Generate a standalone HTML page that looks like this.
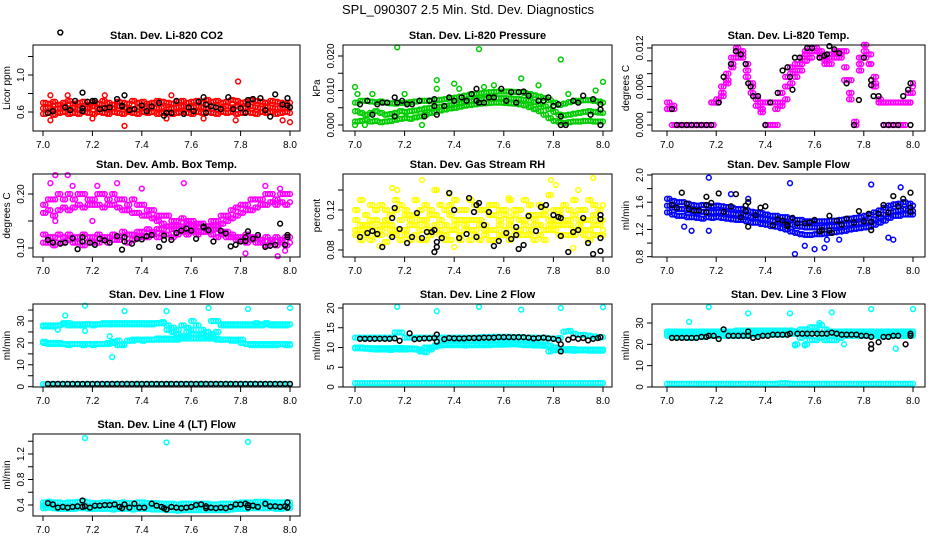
<!DOCTYPE html>
<html><head><meta charset="utf-8"><style>
html,body{margin:0;padding:0;background:#fff;}
svg{display:block;font-family:"Liberation Sans",sans-serif;}
</style></head><body>
<svg id="chart" width="936" height="540" viewBox="0 0 936 540" xmlns="http://www.w3.org/2000/svg">
<rect x="0" y="0" width="936" height="540" fill="#fff"/>
<text x="468" y="14" text-anchor="middle" font-size="13">SPL_090307  2.5 Min. Std. Dev. Diagnostics</text>
</svg>
<script>
const T=[7.00,7.02,7.04,7.06,7.08,7.10,7.12,7.14,7.16,7.18,7.20,7.22,7.24,7.26,7.28,7.30,7.32,7.34,7.36,7.38,7.40,7.42,7.44,7.46,7.48,7.50,7.52,7.54,7.56,7.58,7.60,7.62,7.64,7.66,7.68,7.70,7.72,7.74,7.76,7.78,7.80,7.82,7.84,7.86,7.88,7.90,7.92,7.94,7.96,7.98,8.00];
const T2=[7.01,7.03,7.05,7.07,7.09,7.11,7.13,7.15,7.17,7.19,7.21,7.23,7.25,7.27,7.29,7.31,7.33,7.35,7.37,7.39,7.41,7.43,7.45,7.47,7.49,7.51,7.53,7.55,7.57,7.59,7.61,7.63,7.65,7.67,7.69,7.71,7.73,7.75,7.77,7.79,7.81,7.83,7.85,7.87,7.89,7.91,7.93,7.95,7.97,7.99];
const xTicks=[7.0,7.2,7.4,7.6,7.8,8.0];
const xTickLabels=["7.0","7.2","7.4","7.6","7.8","8.0"];
// CO2
const co2RedHi=[0.70,0.69,0.71,0.68,0.70,0.72,0.69,0.70,0.71,0.68,0.70,0.69,0.72,0.70,0.68,0.71,0.70,0.69,0.72,0.70,0.71,0.69,0.70,0.72,0.71,0.70,0.69,0.71,0.72,0.70,0.71,0.72,0.70,0.73,0.71,0.72,0.70,0.71,0.73,0.72,0.70,0.71,0.73,0.72,0.71,0.70,0.72,0.71,0.70,0.69,0.70];
const co2RedMid=[0.64,0.65,0.63,0.64,0.66,0.64,0.65,0.63,0.64,0.65,0.66,0.64,0.65,0.63,0.64,0.66,0.65,0.64,0.63,0.65,0.64,0.66,0.65,0.64,0.65,0.63,0.64,0.65,0.66,0.64,0.65,0.66,0.65,0.64,0.66,0.65,0.64,0.66,0.65,0.66,0.64,0.65,0.66,0.65,0.64,0.66,0.65,0.64,0.65,0.64,0.65];
const co2RedLo=[0.58,0.59,0.57,0.59,0.60,0.58,0.59,0.58,0.60,0.59,0.58,0.60,0.59,0.58,0.60,0.59,0.58,0.60,0.59,0.58,0.60,0.59,0.60,0.58,0.59,0.60,0.58,0.59,0.60,0.59,0.58,0.60,0.59,0.60,0.59,0.58,0.60,0.59,0.60,0.58,0.59,0.60,0.59,0.58,0.60,0.59,0.60,0.58,0.59,0.60,0.59];
const co2RedOutX=[7.03,7.10,7.25,7.33,7.52,7.79,7.78,7.97,8.0,7.03,7.20,7.65,7.50];
const co2RedOutY=[0.78,0.78,0.78,0.45,0.78,0.93,0.51,0.51,0.49,0.51,0.53,0.53,0.53];
const co2BlkX=[7.02,7.04,7.09,7.11,7.13,7.16,7.16,7.18,7.2,7.21,7.23,7.25,7.27,7.3,7.32,7.32,7.33,7.35,7.37,7.40,7.42,7.44,7.47,7.49,7.5,7.52,7.54,7.57,7.59,7.61,7.63,7.65,7.66,7.66,7.68,7.70,7.72,7.75,7.77,7.80,7.82,7.83,7.83,7.85,7.88,7.90,7.92,7.94,7.97,7.99,7.99,8.0,7.07,7.16];
const co2BlkY=[0.59,0.61,0.65,0.62,0.72,0.61,0.64,0.71,0.72,0.72,0.63,0.64,0.65,0.74,0.66,0.67,0.78,0.62,0.63,0.67,0.61,0.66,0.70,0.56,0.59,0.59,0.72,0.58,0.65,0.61,0.71,0.76,0.68,0.59,0.66,0.65,0.63,0.76,0.63,0.64,0.59,0.68,0.73,0.74,0.75,0.62,0.55,0.79,0.68,0.75,0.67,0.65,1.46,0.81];
// Pressure
const prGreenHi=[.0065,.007,.007,.0068,.0066,.0068,.0065,.0063,.0062,.0064,.0065,.0066,.0068,.0070,.0070,.0071,.0072,.0073,.0075,.0077,.0079,.0082,.0085,.0088,.009,.0092,.0094,.0095,.0096,.0097,.0097,.0097,.0096,.0095,.0093,.009,.0086,.0082,.0078,.0072,.0065,.0058,.0062,.0066,.007,.007,.0072,.0072,.007,.0068,.0065];
const prGreenMid=[.004,.0035,.003,.0035,.004,.0035,.003,.0032,.0035,.004,.0038,.004,.0042,.0045,.0048,.005,.0052,.0053,.0055,.0057,.006,.0063,.0066,.0069,.0072,.0074,.0076,.0077,.0078,.0078,.0078,.0077,.0076,.0075,.0073,.007,.0066,.006,.0054,.0046,.0038,.003,.0028,.003,.0033,.0035,.0038,.004,.0038,.0036,.0035];
const prGreenLo=[.001,.0012,.0015,.001,.0012,.0008,.001,.0012,.0015,.0018,.002,.0018,.0022,.0025,.003,.0035,.0038,.0042,.0045,.0048,.005,.0053,.0056,.0058,.006,.0062,.0063,.0064,.0065,.0065,.0064,.0063,.0062,.006,.0057,.0052,.0046,.004,.003,.002,.0012,.0008,.0006,.0008,.001,.001,.0012,.0012,.001,.001,.001];
const prGreenOutX=[7.0,7.17,7.5,7.33,7.67,7.83,8.0,7.4,7.0,7.04,7.27,7.56,7.74,7.97,7.01,7.07,7.2,7.86,7.33,7.42,7.52];
const prGreenOutY=[.011,.0225,.022,.013,.0135,.019,.0125,.012,0,0,0,.0115,.0115,.01,.009,.009,.009,.009,.0105,.0105,.011];
const prBlkX=[7.02,7.05,7.07,7.09,7.11,7.13,7.16,7.16,7.17,7.19,7.21,7.23,7.26,7.28,7.30,7.32,7.32,7.33,7.36,7.38,7.40,7.43,7.45,7.47,7.49,7.49,7.50,7.52,7.54,7.56,7.59,7.61,7.63,7.65,7.66,7.68,7.70,7.74,7.76,7.78,7.80,7.82,7.83,7.83,7.85,7.88,7.90,7.92,7.95,7.96,7.99,7.99,7.99];
const prBlkY=[.006,.007,.003,.006,.0065,.0065,.008,.0025,.0065,.007,.006,.006,.007,.0025,.007,.0055,.0075,.003,.0055,.008,.007,.008,.007,.009,.0105,.007,.0065,.0065,.008,.008,.0105,.007,.0095,.0065,.0095,.0097,.0085,.007,.007,.008,.0055,.006,.0025,0,0,.007,.0065,.0085,.003,.0075,.006,.0045,0];
// Li-820 temp
const tmMagA=[.0035,.003,0,0,0,0,0,0,0,.0035,.004,.006,.008,.0105,.0115,.011,.0085,.006,.0045,.0035,.0035,.0035,.0035,.005,.0075,.009,.0095,.0105,.0115,.012,.012,.0115,.0105,.011,.0115,.0115,.009,.005,.0005,.0105,.0115,.0095,.006,.004,.0035,.0035,.0035,.0035,.0035,.005,.0065];
const tmMagB=[.0025,.0025,0,0,0,0,0,0,0,0,.0035,.0045,.007,.0095,.012,.0105,.0075,.005,.004,.0025,0,0,.0025,.0035,.006,.008,.0085,.0095,.011,.0115,.0115,.0105,.01,.0105,.0112,.011,.0115,.007,0,.0085,.0125,.011,.0075,.0035,0,0,0,0,0,.0035,.006];
const tmMagC=[.0025,0,0,0,0,0,0,0,0,.0035,.0035,.005,.0065,.009,.0105,.0115,.0095,.0065,.003,.002,0,0,0,.003,.004,.0065,.0075,.0085,.01,.0105,.0115,.011,.0095,.0095,.0105,.0105,.007,.004,0,.0095,.0105,.0095,.0065,.0035,.0035,0,.0035,0,.0035,.0035,.005];
const tmBlkX=[7.02,7.04,7.06,7.08,7.10,7.12,7.14,7.16,7.18,7.21,7.23,7.26,7.28,7.30,7.32,7.33,7.34,7.35,7.37,7.40,7.42,7.45,7.47,7.49,7.50,7.51,7.52,7.54,7.57,7.59,7.62,7.64,7.65,7.66,7.68,7.70,7.73,7.76,7.78,7.80,7.83,7.83,7.84,7.86,7.88,7.90,7.92,7.94,7.96,7.98,7.99,7.99];
const tmBlkY=[.0025,0,0,0,0,0,0,0,0,.0035,.0075,.0095,.0115,.011,.0095,.0065,.006,.0045,.0045,0,.0035,.005,.0085,.009,.0075,.0055,.0105,.0105,.012,.012,.0105,.0108,.011,.0123,.0118,.0112,.0065,0,.0039,.0105,.007,.0062,.0045,.0045,0,0,0,0,.0045,.0055,.0065,0];
// Amb box temp
const abHi=[.18,.19,.19,.20,.19,.20,.19,.20,.20,.19,.19,.20,.20,.19,.20,.19,.19,.18,.19,.18,.18,.17,.17,.16,.16,.16,.15,.15,.155,.15,.15,.14,.145,.14,.15,.15,.16,.16,.17,.175,.18,.18,.19,.19,.19,.20,.20,.19,.20,.20,.20];
const abMid=[.165,.17,.16,.17,.175,.17,.175,.18,.175,.18,.18,.18,.175,.18,.18,.175,.17,.17,.165,.165,.16,.16,.155,.15,.145,.14,.14,.135,.135,.13,.135,.13,.13,.135,.14,.14,.145,.15,.155,.16,.165,.17,.17,.175,.18,.18,.185,.18,.185,.18,.185];
const abLo=[.11,.11,.105,.11,.11,.115,.11,.11,.105,.11,.11,.11,.115,.11,.115,.115,.12,.11,.115,.12,.12,.12,.125,.12,.125,.125,.12,.125,.13,.125,.13,.125,.13,.13,.125,.12,.125,.12,.12,.115,.115,.11,.115,.11,.11,.105,.11,.105,.11,.105,.11];
const abLo2=[.125,.12,.12,.125,.12,.125,.12,.12,.125,.12,.12,.125,.12,.12,.125,.12,.13,.125,.125,.13,.13,.135,.13,.135,.135,.14,.135,.14,.14,.145,.14,.145,.145,.14,.135,.135,.13,.13,.125,.12,.12,.125,.12,.12,.115,.12,.115,.12,.115,.12,.12];
const abOutX=[7.03,7.05,7.1,7.12,7.22,7.3,7.4,7.57,7.9,7.96,7.98,7.05,7.2,7.45,7.82,7.95];
const abOutY=[.22,.235,.235,.215,.215,.22,.21,.22,.215,.21,.095,.15,.15,.155,.09,.085];
const abBlkX=[7.02,7.04,7.07,7.09,7.12,7.14,7.16,7.16,7.19,7.21,7.23,7.25,7.27,7.30,7.32,7.33,7.33,7.36,7.38,7.40,7.42,7.44,7.47,7.49,7.49,7.52,7.54,7.56,7.58,7.60,7.62,7.65,7.65,7.67,7.69,7.72,7.74,7.76,7.78,7.80,7.82,7.82,7.83,7.85,7.87,7.90,7.92,7.94,7.96,7.98,7.99,7.99];
const abBlkY=[.115,.110,.108,.110,.118,.098,.120,.112,.110,.106,.117,.114,.110,.122,.097,.112,.120,.108,.117,.116,.122,.124,.102,.123,.115,.115,.128,.132,.136,.132,.117,.138,.140,.133,.112,.132,.127,.103,.106,.112,.113,.120,.131,.117,.124,.102,.104,.106,.145,.106,.124,.120];
// RH
const rhA=[.095,.13,.10,.09,.12,.105,.088,.115,.10,.125,.095,.11,.13,.09,.105,.12,.14,.10,.095,.115,.13,.09,.11,.10,.125,.105,.095,.115,.09,.12,.10,.13,.095,.11,.105,.125,.09,.115,.10,.135,.105,.12,.095,.11,.13,.10,.12,.09,.115,.105,.10];
const rhB=[.11,.10,.115,.105,.095,.125,.11,.10,.12,.09,.115,.105,.095,.12,.11,.10,.115,.125,.105,.09,.11,.12,.10,.13,.095,.11,.12,.10,.115,.105,.095,.11,.12,.10,.13,.095,.115,.105,.12,.10,.11,.095,.125,.105,.10,.12,.095,.11,.105,.12,.095];
const rhC=[.10,.105,.095,.11,.10,.095,.12,.105,.095,.10,.12,.115,.105,.10,.09,.115,.105,.095,.12,.10,.105,.095,.12,.11,.10,.09,.105,.125,.10,.095,.115,.105,.10,.12,.095,.10,.11,.095,.115,.105,.10,.115,.105,.095,.115,.105,.11,.10,.125,.095,.11];
const rhD=[.12,.09,.105,.125,.11,.10,.105,.095,.13,.11,.10,.09,.115,.11,.125,.095,.10,.11,.09,.125,.10,.11,.105,.09,.11,.12,.10,.09,.125,.11,.12,.09,.115,.095,.11,.115,.105,.125,.09,.11,.12,.105,.11,.12,.095,.11,.10,.13,.095,.11,.125];
const rhOutX=[7.15,7.17,7.27,7.38,7.62,7.79,7.81,7.9,7.96,7.1,7.4,7.88];
const rhOutY=[.142,.14,.15,.136,.132,.15,.145,.14,.152,.084,.083,.082];
const rhBlkX=[7.02,7.05,7.07,7.09,7.11,7.15,7.15,7.16,7.18,7.21,7.23,7.25,7.27,7.29,7.31,7.32,7.32,7.33,7.33,7.35,7.38,7.40,7.42,7.45,7.46,7.48,7.49,7.49,7.50,7.52,7.54,7.56,7.58,7.61,7.63,7.65,7.65,7.66,7.68,7.70,7.73,7.75,7.77,7.80,7.82,7.83,7.83,7.86,7.88,7.90,7.92,7.94,7.96,7.99,7.99,7.99,7.99];
const rhBlkY=[.093,.097,.099,.096,.083,.093,.112,.122,.101,.087,.093,.117,.092,.098,.098,.078,.100,.088,.083,.092,.137,.120,.092,.096,.132,.118,.093,.125,.127,.105,.118,.084,.089,.097,.091,.095,.103,.081,.085,.114,.099,.123,.125,.115,.113,.112,.094,.078,.098,.100,.112,.087,.076,.115,.111,.092,.079];
// Sample flow
const sfHi=[1.65,1.62,1.6,1.6,1.58,1.56,1.55,1.56,1.55,1.54,1.55,1.54,1.53,1.52,1.5,1.5,1.48,1.46,1.45,1.44,1.42,1.4,1.4,1.38,1.38,1.36,1.34,1.34,1.32,1.32,1.32,1.32,1.32,1.33,1.33,1.34,1.35,1.36,1.37,1.38,1.4,1.42,1.45,1.48,1.52,1.55,1.57,1.58,1.6,1.58,1.55];
const sfMid=[1.55,1.52,1.5,1.5,1.48,1.47,1.46,1.46,1.46,1.45,1.46,1.45,1.44,1.43,1.42,1.42,1.4,1.38,1.37,1.36,1.35,1.33,1.32,1.3,1.29,1.27,1.25,1.24,1.23,1.23,1.23,1.23,1.24,1.25,1.25,1.26,1.27,1.28,1.28,1.29,1.3,1.32,1.35,1.38,1.42,1.45,1.47,1.48,1.5,1.48,1.47];
const sfLo=[1.45,1.42,1.4,1.4,1.38,1.38,1.37,1.36,1.38,1.37,1.38,1.37,1.36,1.35,1.34,1.34,1.32,1.3,1.3,1.28,1.27,1.25,1.24,1.22,1.2,1.17,1.15,1.13,1.12,1.12,1.13,1.13,1.14,1.15,1.16,1.17,1.18,1.2,1.21,1.22,1.23,1.24,1.27,1.3,1.33,1.37,1.4,1.4,1.42,1.42,1.42];
const sfOutX=[7.17,7.5,7.83,7.1,7.17,7.56,7.6,7.64,7.52,7.9,7.92,7.65,7.7,7.95,7.26,7.33,7.07];
const sfOutY=[1.96,1.88,1.86,1.18,1.18,0.96,0.91,0.93,0.84,1.08,1.05,1.05,1.05,1.82,1.72,1.65,1.24];
const sfBlkX=[7.02,7.04,7.06,7.08,7.09,7.11,7.13,7.16,7.16,7.16,7.18,7.21,7.23,7.26,7.28,7.30,7.32,7.32,7.33,7.33,7.36,7.38,7.40,7.43,7.45,7.47,7.49,7.49,7.51,7.53,7.56,7.58,7.60,7.62,7.63,7.66,7.66,7.67,7.69,7.71,7.73,7.76,7.78,7.80,7.82,7.83,7.83,7.86,7.88,7.90,7.92,7.94,7.96,7.99,7.99,7.99];
const sfBlkY=[1.56,1.52,1.74,1.58,1.5,1.48,1.48,1.45,1.56,1.68,1.59,1.73,1.46,1.54,1.72,1.38,1.47,1.55,1.6,1.24,1.41,1.52,1.54,1.26,1.35,1.33,1.27,1.25,1.37,1.29,1.29,1.3,1.34,1.17,1.19,1.4,1.18,1.15,1.33,1.27,1.36,1.3,1.47,1.32,1.43,1.31,1.19,1.43,1.56,1.45,1.69,1.54,1.65,1.46,1.52,1.74];
// Line 1 flow
const l1Hi=[28,28,28,28,28.5,29,28.5,28.5,28.5,28.5,28.5,28.5,29,29,29,29,29,29,29,29,29,29,29,29,29.5,28,27,26,28,25,30,28,26,25,24,30,28.5,28.5,28.5,28.5,28.5,28.5,28.5,29,28.5,28.5,28.5,28.5,28.5,28.5,28.5];
const l1Hi2=[27.5,27.5,27.5,28,29,28,28,28,28,28.5,28,28.5,28.5,28.5,28.5,28.5,28.5,28.5,28.5,28.5,28.5,28.5,28.5,29,29,26,25,24,23,27,26,24,22,25,30,25,28,28,28,28,28,28,28,28,28,29,28,28,28,28,28.5];
const l1Lo=[20.5,20,20,19.5,19.5,19.5,19.5,19.5,19.5,19.5,19.5,19.5,19.5,20,20.5,19,19.5,21,21.5,21.5,21.5,21.5,21.5,21.5,21.5,22,21.5,21.5,22,22,22,22,22.5,22,22,21.5,21.5,21.5,21.5,21,20,19.5,19.5,19.5,19.5,19.5,19.5,19.5,19.5,19.5,19.5];
const l1Lo2=[20,19.5,19.5,20,19.5,19,19.5,19.5,19,19.5,19,19.5,19.5,19.5,20,21,19,21,21,21.5,21,21.5,21.5,22,22,21.5,22,22.5,23,23,24,23.5,24,23,23,22,21.5,21.5,21,21.5,21.5,19.5,19,19,19,19,19,19,19.5,19,19];
const l1Bot=[1.2,1.2,1.2,1.2,1.2,1.2,1.2,1.2,1.2,1.2,1.2,1.2,1.2,1.2,1.2,1.2,1.2,1.2,1.2,1.2,1.2,1.2,1.2,1.2,1.2,1.2,1.2,1.2,1.2,1.2,1.2,1.2,1.2,1.2,1.2,1.2,1.2,1.2,1.2,1.2,1.2,1.2,1.2,1.2,1.2,1.2,1.2,1.2,1.2,1.2,1.2];
const l1OutX=[7.17,7.33,7.5,7.67,7.83,8.0,7.09,7.28,7.17,7.06,7.27];
const l1OutY=[37,34.5,34.5,36,35.5,36,32.5,13.5,25.5,26,23];
const l1Blk=[1.3,1.3,1.3,1.3,1.3,1.3,1.3,1.3,1.3,1.3,1.3,1.3,1.3,1.3,1.3,1.3,1.3,1.3,1.3,1.3,1.3,1.3,1.3,1.3,1.3,1.3,1.3,1.3,1.3,1.3,1.3,1.3,1.3,1.3,1.3,1.3,1.3,1.3,1.3,1.3,1.3,1.3,1.3,1.3,1.3,1.3,1.3,1.3,1.3,1.3,1.3];
// Line 2 flow
const l2Hi=[12.5,12.5,12.5,12.5,12.5,12.5,12.5,12.5,13.8,13.8,12.5,12.5,12.5,12.5,12.5,12.5,12.5,12.5,12.5,12.5,12.5,12.5,12.5,12.5,12.5,12.6,12.6,12.6,12.7,12.7,12.7,12.7,12.6,12.6,12.5,12.5,12.5,12.5,12.5,12.3,12.2,12.4,14,14.2,13.5,13.2,13.2,13,12.8,12.6,12.6];
const l2Mid=[9.8,9.8,9.7,9.6,9.5,9.5,9.5,9.4,9.6,9.5,9.5,9.6,9.5,9.5,10,10,10.2,10.5,10.6,10.6,10.6,10.6,10.5,10.6,10.6,10.6,10.6,10.6,10.7,10.7,10.7,10.8,10.8,10.7,10.6,10.6,10.5,10.5,10.4,9,9.3,9.3,9.3,9.3,9.2,9.3,9.3,9.2,9.2,9.2,9.2];
const l2Mid2=[10,10,9.9,9.8,9.8,9.8,9.8,9.8,9.9,9.9,9.8,9.8,9.7,9,8.8,9.5,10.5,10.8,10.8,10.9,10.9,10.9,10.9,10.8,10.9,11,11,11,11,11.2,11.2,11.3,11.2,11,11,11,11,10.8,10.8,10.5,10,9.6,9.6,9.6,9.6,9.5,9.5,9.5,9.5,9.5,9.5];
const l2Bot=[1,1,1,1,1,1,1,1,1,1,1,1,1,1,1,1,1,1,1,1,1,1,1,1,1,1,1,1,1,1,1,1,1,1,1,1,1,1,1,1,1,1,1,1,1,1,1,1,1,1,1];
const l2OutX=[7.17,7.33,7.5,7.67,7.83,8.0];
const l2OutY=[20.3,19.2,20.3,19.6,20,20.2];
const l2BlkX=[7.02,7.04,7.06,7.08,7.10,7.12,7.14,7.16,7.18,7.22,7.24,7.26,7.28,7.30,7.32,7.33,7.33,7.36,7.38,7.40,7.42,7.44,7.46,7.48,7.50,7.52,7.54,7.56,7.58,7.60,7.62,7.64,7.66,7.68,7.70,7.72,7.74,7.76,7.78,7.80,7.82,7.83,7.83,7.86,7.88,7.90,7.92,7.94,7.96,7.98,7.99];
const l2BlkY=[12.2,12.2,12.2,12.2,12.2,12.2,12.2,12.3,11.7,13.6,12.1,12.2,12.3,12.3,12.4,11.5,13.3,12.1,12.4,12.3,12.3,12.3,12.4,12.4,12.4,12.5,12.5,12.5,12.6,12.6,12.6,12.6,12.6,12.6,12.5,12.3,12.4,12.5,12.3,12.2,11.9,10.8,9,12,12.5,12.2,12.4,11.8,12.2,12.4,12.6];
// Line 3 flow
const l3Hi=[26,26,26,26,26,26,26,26,26,26,26,26,26,26,26.5,26.5,26.5,26.5,26.5,26.5,26.5,26.5,26.5,26.5,26.5,26.5,26,27,27,28,28,29,27,26,26,26,26,26,26,26,26,26,26,26,26,26,26,26,26,26,26];
const l3Lo=[24,23.5,23.5,23.5,23,23,23.5,23.5,24,24,24,24,24,24,24,24,24,24.5,24.5,24.5,24.5,24.5,24.5,24.5,24.5,25,20,23,20,22,22,23,22,22,22,23,24,24,24,24,24,24,24,24,24,24,24,24,24,24,24];
const l3Mid=[25,25,25,25,25,25,25,25,25,25,25,25,25,25,25,25,25,25.5,25.5,25.5,25.5,25.5,25.5,25.5,25.5,25.5,25,25,24,25,26,25,25,24,25,25,25,25,25,25,25,25,25,25,25,25,25,25,25,25,25];
const l3Bot=[1.5,1.5,1.5,1.5,1.5,1.5,1.5,1.5,1.5,1.5,1.5,1.5,1.5,1.5,1.5,1.5,1.5,1.5,1.5,1.5,1.5,1.5,1.5,1.8,1.8,1.5,1.5,1.5,1.5,1.5,1.5,1.5,1.5,1.5,1.5,1.5,1.5,1.5,1.5,1.5,1.5,1.5,1.5,1.5,1.5,1.5,1.5,1.5,1.5,1.5,1.5];
const l3OutX=[7.17,7.33,7.5,7.67,7.83,8.0,7.09,7.52,7.56,7.93,7.62,7.72];
const l3OutY=[37.5,34.5,34.5,35,36.5,36.5,30.5,19.5,19.5,18,30,20];
const l3BlkX=[7.02,7.04,7.06,7.08,7.10,7.12,7.14,7.16,7.17,7.19,7.21,7.23,7.25,7.27,7.29,7.31,7.33,7.33,7.35,7.37,7.39,7.41,7.43,7.45,7.47,7.49,7.50,7.53,7.55,7.57,7.59,7.61,7.63,7.65,7.67,7.69,7.71,7.73,7.75,7.77,7.79,7.81,7.83,7.83,7.83,7.86,7.88,7.90,7.92,7.94,7.97,7.99,7.99];
const l3BlkY=[23,23,23,23,23,23,23.5,23.5,24,24,22.5,27,24,24,24,24,24,26,23,23.5,24,24,24.5,24.5,24.5,24.5,25,25,25,25,25,25,25,25,25.5,25,24.5,24.5,24.5,24.5,24,24,23.5,18,20,21,23.5,23.5,24,24,20,25,24];
// Line 4 flow
const l4Hi=[0.44,0.45,0.44,0.44,0.43,0.44,0.44,0.45,0.46,0.44,0.43,0.43,0.44,0.44,0.43,0.43,0.44,0.43,0.43,0.44,0.44,0.43,0.43,0.43,0.42,0.42,0.42,0.41,0.42,0.42,0.42,0.42,0.42,0.42,0.41,0.41,0.42,0.42,0.42,0.43,0.44,0.44,0.44,0.45,0.45,0.45,0.44,0.44,0.44,0.44,0.44];
const l4Mid=[0.39,0.40,0.39,0.38,0.38,0.39,0.38,0.39,0.40,0.38,0.38,0.38,0.39,0.39,0.38,0.38,0.39,0.38,0.38,0.38,0.39,0.38,0.38,0.38,0.37,0.37,0.37,0.36,0.37,0.37,0.37,0.37,0.37,0.37,0.36,0.36,0.37,0.37,0.37,0.38,0.39,0.39,0.39,0.40,0.40,0.40,0.39,0.39,0.39,0.39,0.39];
const l4Lo=[0.35,0.36,0.35,0.34,0.34,0.34,0.34,0.35,0.35,0.34,0.34,0.34,0.34,0.34,0.33,0.34,0.34,0.34,0.33,0.34,0.34,0.34,0.33,0.33,0.33,0.32,0.32,0.31,0.32,0.32,0.32,0.32,0.32,0.32,0.32,0.32,0.32,0.32,0.33,0.34,0.34,0.34,0.35,0.35,0.35,0.35,0.35,0.34,0.34,0.35,0.35];
const l4OutX=[7.17,7.5,7.83];
const l4OutY=[1.45,1.38,1.39];
const l4BlkX=[7.02,7.04,7.06,7.08,7.10,7.12,7.14,7.16,7.16,7.17,7.19,7.21,7.23,7.25,7.27,7.29,7.31,7.32,7.33,7.35,7.37,7.39,7.41,7.44,7.46,7.48,7.49,7.50,7.52,7.54,7.56,7.58,7.60,7.62,7.64,7.66,7.66,7.68,7.70,7.72,7.74,7.76,7.78,7.80,7.82,7.83,7.83,7.85,7.87,7.90,7.92,7.94,7.96,7.98,7.99,7.99];
const l4BlkY=[0.43,0.41,0.36,0.37,0.36,0.37,0.38,0.37,0.47,0.38,0.36,0.39,0.39,0.40,0.40,0.41,0.37,0.35,0.41,0.36,0.42,0.36,0.36,0.42,0.39,0.37,0.35,0.33,0.37,0.36,0.35,0.36,0.37,0.40,0.41,0.38,0.35,0.36,0.35,0.36,0.35,0.37,0.41,0.41,0.42,0.36,0.40,0.39,0.37,0.42,0.38,0.38,0.37,0.38,0.44,0.36];

const svg=document.getElementById('chart');
const NS='http://www.w3.org/2000/svg';
function el(tag,attrs,parent){const e=document.createElementNS(NS,tag);for(const k in attrs)e.setAttribute(k,attrs[k]);(parent||svg).appendChild(e);return e;}
const COLS=[{l:33,r:300,x0:43,x1:290},{l:343,r:612,x0:355,x1:603},{l:652,r:925,x0:667,x1:913}];
const ROWS=[{t:45,b:131},{t:174,b:257},{t:304,b:387},{t:434,b:516}];
function makePanel(name,col,row,title,ylab,v0,p0,v1,p1,ticks,labels){
  const c=COLS[col],r=ROWS[row];
  const g=el('g',{});
  
  
  const xs=v=>c.x0+(v-7)*(c.x1-c.x0);
  const ys=v=>p0+(v-v0)*(p1-p0)/(v1-v0);
  const tt=el('text',{x:(c.l+c.r)/2,y:r.t-6,'text-anchor':'middle','font-size':'11','font-weight':'bold'},g);
  tt.textContent=title;
  
  
  const marks=el('g',{},g);
  
  
  const box=el('rect',{x:c.l,y:r.t,width:c.r-c.l,height:r.b-r.t,fill:'none',stroke:'#000','stroke-width':'1'},g);
  
  
  const xa=el('g',{},g);
  
  
  el('line',{x1:xs(7),x2:xs(8),y1:r.b,y2:r.b,stroke:'#000'},xa);
  xTicks.forEach((v,i)=>{
    el('line',{x1:xs(v),x2:xs(v),y1:r.b,y2:r.b+5,stroke:'#000'},xa);
    const t=el('text',{x:xs(v),y:r.b+17,'text-anchor':'middle','font-size':'10'},xa);
    t.textContent=xTickLabels[i];
  });
  const ya=el('g',{},g);
  
  
  el('line',{x1:c.l,x2:c.l,y1:ys(ticks[0]),y2:ys(ticks[ticks.length-1]),stroke:'#000'},ya);
  ticks.forEach(v=>el('line',{x1:c.l-5,x2:c.l,y1:ys(v),y2:ys(v),stroke:'#000'},ya));
  labels.forEach(s=>{
    const y=ys(parseFloat(s));
    const t=el('text',{x:c.l-9,y:y,'text-anchor':'middle','font-size':'10',transform:`rotate(-90 ${c.l-9} ${y})`},ya);
    t.textContent=s;
  });
  const ym=(r.t+r.b)/2;
  const yl=el('text',{x:c.l-23,y:ym,'text-anchor':'middle','font-size':'10',transform:`rotate(-90 ${c.l-23} ${ym})`},g);
  yl.textContent=ylab;
  
  
  return {g:marks,xs,ys};
}
function pts(p,xArr,yArr,color,label){
  const n=Math.min(xArr.length,yArr.length);
  const g=el('g',{fill:'none',stroke:color,'stroke-width':'1.5'},p.g);
  
  
  for(let i=0;i<n;i++){
    const c=el('circle',{cx:p.xs(xArr[i]).toFixed(1),cy:p.ys(yArr[i]).toFixed(1),r:'2.4'},g);
    
    
  }
}
// band series: values sampled at T, also drawn at half-steps T2 for density
function band(p,yArr,color,label){
  pts(p,T,yArr,color,label);
  pts(p,T2,yArr,color,label);
}
const RED='#ff0000',GRN='#00cc00',MAG='#ff00ff',YEL='#ffff00',BLU='#0000ff',CYN='#00ffff',BLK='#000000';
let p;
p=makePanel('co2',0,0,'Stan. Dev. Li-820 CO2','Licor ppm',0.6,112,1.0,75,[0.6,0.8,1.0,1.2],['0.6','1.0']);
band(p,co2RedHi,RED,'co2-red-series');band(p,co2RedMid,RED,'co2-red-series');band(p,co2RedLo,RED,'co2-red-series');pts(p,co2RedOutX,co2RedOutY,RED,'co2-red-outliers');pts(p,co2BlkX,co2BlkY,BLK,'co2-black-series');
p=makePanel('pressure',1,0,'Stan. Dev. Li-820 Pressure','kPa',0,125,0.02,56,[0,0.005,0.01,0.015,0.02],['0.000','0.010','0.020']);
band(p,prGreenHi,GRN,'pressure-green-series');band(p,prGreenMid,GRN,'pressure-green-series');band(p,prGreenLo,GRN,'pressure-green-series');pts(p,prGreenOutX,prGreenOutY,GRN,'pressure-green-outliers');pts(p,prBlkX,prBlkY,BLK,'pressure-black-series');
p=makePanel('licor-temp',2,0,'Stan. Dev. Li-820 Temp.','degrees C',0,125,0.012,48,[0,0.002,0.004,0.006,0.008,0.010,0.012],['0.000','0.006','0.012']);
band(p,tmMagA,MAG,'temp-magenta-series');band(p,tmMagB,MAG,'temp-magenta-series');band(p,tmMagC,MAG,'temp-magenta-series');pts(p,tmBlkX,tmBlkY,BLK,'temp-black-series');
p=makePanel('amb-box-temp',0,1,'Stan. Dev. Amb. Box Temp.','degrees C',0.10,248,0.20,194,[0.10,0.15,0.20],['0.10','0.20']);
band(p,abHi,MAG,'amb-magenta-series');band(p,abMid,MAG,'amb-magenta-series');band(p,abLo,MAG,'amb-magenta-series');band(p,abLo2,MAG,'amb-magenta-series');pts(p,abOutX,abOutY,MAG,'amb-magenta-outliers');pts(p,abBlkX,abBlkY,BLK,'amb-black-series');
p=makePanel('gas-rh',1,1,'Stan. Dev. Gas Stream RH','percent',0.08,250,0.12,210,[0.08,0.10,0.12,0.14],['0.08','0.12']);
band(p,rhA,YEL,'rh-yellow-series');band(p,rhB,YEL,'rh-yellow-series');band(p,rhC,YEL,'rh-yellow-series');band(p,rhD,YEL,'rh-yellow-series');pts(p,rhOutX,rhOutY,YEL,'rh-yellow-outliers');pts(p,rhBlkX,rhBlkY,BLK,'rh-black-series');
p=makePanel('sample-flow',2,1,'Stan. Dev. Sample Flow','ml/min',0.8,256.7,2.0,175,[0.8,1.0,1.2,1.4,1.6,1.8,2.0],['0.8','1.2','1.6','2.0']);
band(p,sfHi,BLU,'flow-blue-series');band(p,sfMid,BLU,'flow-blue-series');band(p,sfLo,BLU,'flow-blue-series');pts(p,sfOutX,sfOutY,BLU,'flow-blue-outliers');pts(p,sfBlkX,sfBlkY,BLK,'flow-black-series');
p=makePanel('line1-flow',0,2,'Stan. Dev. Line 1 Flow','ml/min',0,386.7,30,321,[0,5,10,15,20,25,30,35],['0','10','20','30']);
band(p,l1Hi,CYN,'line1-cyan-series');band(p,l1Hi2,CYN,'line1-cyan-series');band(p,l1Lo,CYN,'line1-cyan-series');band(p,l1Lo2,CYN,'line1-cyan-series');band(p,l1Bot,CYN,'line1-cyan-series');pts(p,l1OutX,l1OutY,CYN,'line1-cyan-outliers');pts(p,T.slice(1),l1Blk,BLK,'line1-black-series');
p=makePanel('line2-flow',1,2,'Stan. Dev. Line 2 Flow','ml/min',0,387,20,308,[0,5,10,15,20],['0','5','10','15','20']);
band(p,l2Hi,CYN,'line2-cyan-series');band(p,l2Mid,CYN,'line2-cyan-series');band(p,l2Mid2,CYN,'line2-cyan-series');band(p,l2Bot,CYN,'line2-cyan-series');pts(p,l2OutX,l2OutY,CYN,'line2-cyan-outliers');pts(p,l2BlkX,l2BlkY,BLK,'line2-black-series');
p=makePanel('line3-flow',2,2,'Stan. Dev. Line 3 Flow','ml/min',0,387,30,323,[0,10,20,30],['0','10','20','30']);
band(p,l3Hi,CYN,'line3-cyan-series');band(p,l3Mid,CYN,'line3-cyan-series');band(p,l3Lo,CYN,'line3-cyan-series');band(p,l3Bot,CYN,'line3-cyan-series');pts(p,l3OutX,l3OutY,CYN,'line3-cyan-outliers');pts(p,l3BlkX,l3BlkY,BLK,'line3-black-series');
p=makePanel('line4-flow',0,3,'Stan. Dev. Line 4 (LT) Flow','ml/min',0.4,505,1.2,454,[0.4,0.6,0.8,1.0,1.2,1.4],['0.4','0.8','1.2']);
band(p,l4Hi,CYN,'line4-cyan-series');band(p,l4Mid,CYN,'line4-cyan-series');band(p,l4Lo,CYN,'line4-cyan-series');pts(p,l4OutX,l4OutY,CYN,'line4-cyan-outliers');pts(p,l4BlkX,l4BlkY,BLK,'line4-black-series');
</script>
</body></html>
